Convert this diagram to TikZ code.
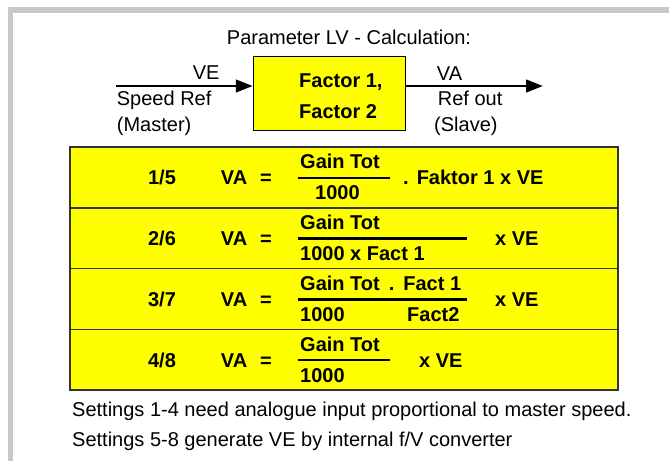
\documentclass[tikz,border=0pt]{standalone}
\usepackage{fontspec}
\setmainfont{Liberation Sans}
\usetikzlibrary{arrows.meta,positioning}
\definecolor{framegray}{RGB}{200,200,200}
\definecolor{lvyellow}{RGB}{255,255,0}
\newcommand{\lvsize}{\fontsize{20}{24}\selectfont}
\tikzset{
  txt/.style={font=\lvsize,inner sep=0pt,anchor=base west},
  bold/.style={font=\lvsize\bfseries,inner sep=0pt,anchor=base west},
  facbox/.style={draw=black,line width=1pt,fill=lvyellow,minimum width=152pt,minimum height=74.7pt,inner sep=0pt},
  rowbox/.style={draw=black!80,line width=1.5pt,fill=lvyellow,minimum width=548pt,minimum height=60.75pt,inner sep=0pt,outer sep=0pt},
  sig/.style={line width=1.2pt,-{Triangle[length=16.7pt,width=13pt]}},
  fracbar/.style={line width=2.5pt}
}
\newcommand{\fbar}[3]{\draw[fracbar] (#1,#3) -- (#2,#3);}

\begin{document}
\begin{tikzpicture}[x=1pt,y=-1pt]
\useasboundingbox (0,0) rectangle (669,461);
% grey frame
\fill[framegray] (7.5,7.3) rectangle (669,12.7);
\fill[framegray] (7.5,7.3) rectangle (12.5,461);
% block
\node[txt,anchor=base] (ttl) at (349,44) {Parameter LV - Calculation:};
\node[facbox] (fac) at (329,93.4) {};
\node[bold] (fac1) at (299,87) {Factor 1,};
\node[bold] (fac2) at (299,118) {Factor 2};
\coordinate (vein) at (116,86);
\coordinate (vaout) at (542.7,86);
\draw[sig] (vein) -- (vein -| fac.west);
\draw[sig] (vaout -| fac.east) -- (vaout);
\node[txt] (ve) at (192.7,79) {VE};
\node[txt] (spdref) at (116.7,105.5) {Speed Ref};
\node[txt] (master) at (116.7,131.5) {(Master)};
\node[txt] (va) at (436.7,80) {VA};
\node[txt] (refout) at (437.7,105.5) {Ref out};
\node[txt] (slave) at (434,131) {(Slave)};
% table
\node[rowbox] (row1) at (344,177.4) {};
\node[rowbox,below=0pt of row1] (row2) {};
\node[rowbox,below=0pt of row2] (row3) {};
\node[rowbox,below=0pt of row3] (row4) {};
% row 1
\node[bold,anchor=base] (set1) at (162,184.9) {1/5};
\node[bold] (va1) at (220.7,184.9) {VA};
\node[bold] (eq1) at (260,184.9) {=};
\node[bold] (num1) at (300,168.9) {Gain Tot};
\fbar{297.5}{390}{177.9}
\node[bold] (den1) at (315,199.9) {1000};
\node[bold] (mul1) at (403,184.9) {.\hspace{8pt}Faktor 1 x VE};
% row 2
\node[bold,anchor=base] (set2) at (162,245.6) {2/6};
\node[bold] (va2) at (220.7,245.6) {VA};
\node[bold] (eq2) at (260,245.6) {=};
\node[bold] (num2) at (300,229.6) {Gain Tot};
\fbar{297.5}{467}{238.6}
\node[bold] (den2) at (300,260.6) {1000 x Fact 1};
\node[bold] (mul2) at (495,245.6) {x VE};
% row 3
\node[bold,anchor=base] (set3) at (162,306.4) {3/7};
\node[bold] (va3) at (220.7,306.4) {VA};
\node[bold] (eq3) at (260,306.4) {=};
\node[bold] (num3) at (300,290.4) {Gain Tot\hspace{9pt}.\hspace{9pt}Fact 1};
\fbar{297.5}{467}{299.4}
\node[bold] (den3) at (300,321.4) {1000};
\node[bold] (den3b) at (407,321.4) {Fact2};
\node[bold] (mul3) at (495,306.4) {x VE};
% row 4
\node[bold,anchor=base] (set4) at (162,367.1) {4/8};
\node[bold] (va4) at (220.7,367.1) {VA};
\node[bold] (eq4) at (260,367.1) {=};
\node[bold] (num4) at (300,351.1) {Gain Tot};
\fbar{297.5}{390}{360.1}
\node[bold] (den4) at (300,382.1) {1000};
\node[bold] (mul4) at (419,367.1) {x VE};
% notes
\node[txt] (note1) at (72,416) {Settings 1-4 need analogue input proportional to master speed.};
\node[txt] (note2) at (72,446) {Settings 5-8 generate VE by internal f/V converter};
\end{tikzpicture}
\end{document}
